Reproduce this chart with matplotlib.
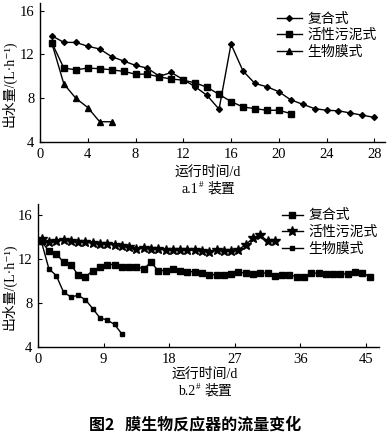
import numpy as np
import matplotlib
matplotlib.use("Agg")
import matplotlib.pyplot as plt

plt.rcParams['font.family'] = ['Liberation Serif', 'Noto Sans CJK SC', 'DejaVu Sans']

W, H = 391, 440

# a. 1# device (days 1..28)
a_days_fh = list(range(1, 29))
a_fh = [13.7, 13.1, 13.1, 12.75, 12.5, 11.8, 11.4, 11.0, 10.75, 10.0,
        10.35, 9.7, 9.05, 8.25, 7.0, 12.95, 10.5, 9.35, 9.05, 8.6,
        7.85, 7.45, 7.05, 6.9, 6.85, 6.65, 6.45, 6.25]
a_days_hx = list(range(1, 22))
a_hx = [13.05, 10.75, 10.6, 10.75, 10.7, 10.6, 10.45, 10.2, 10.2, 9.95,
        9.75, 9.65, 9.4, 9.0, 8.35, 7.7, 7.2, 7.05, 6.9, 6.9, 6.6]
a_days_sw = list(range(1, 7))
a_sw = [13.0, 9.3, 8.0, 7.15, 5.85, 5.85]

# b. 2# device (sampled daily, plotted half a day in)
b_fh = [13.6, 12.7, 12.5, 11.7, 11.5, 10.55, 10.4, 10.9, 11.3, 11.5,
        11.5, 11.3, 11.3, 11.3, 11.1, 11.7, 10.95, 10.95, 11.1, 10.95,
        10.85, 10.85, 10.7, 10.56, 10.56, 10.56, 10.65, 10.81, 10.72, 10.63,
        10.72, 10.72, 10.5, 10.56, 10.56, 10.4, 10.4, 10.72, 10.72, 10.65,
        10.65, 10.63, 10.65, 10.81, 10.77, 10.4]
b_hx = [13.83, 13.52, 13.61, 13.77, 13.61, 13.56, 13.52, 13.47, 13.38, 13.38,
        13.31, 13.16, 13.1, 12.92, 13.0, 12.95, 12.92, 12.85, 12.85, 12.79,
        12.79, 12.8, 12.75, 12.64, 12.85, 12.76, 12.76, 12.85, 13.3, 13.9,
        14.2, 13.6, 13.6]
b_sw = [13.5, 11.1, 10.5, 9.0, 8.55, 8.7, 8.3, 7.5, 6.65, 6.45, 6.05, 5.2]
b_days_fh = np.arange(len(b_fh)) + 0.5
b_days_hx = np.arange(len(b_hx)) + 0.5
b_days_sw = np.arange(len(b_sw)) + 0.5

labels = ['复合式', '活性污泥式', '生物膜式']
ylab = '出水量/(L·h⁻¹)'

fig = plt.figure(figsize=(W / 100, H / 100), dpi=100)


def px_axes(l, r, t, b):
    return fig.add_axes([l / W, 1 - b / H, (r - l) / W, (b - t) / H])


def style(ax):
    for s in ['top', 'right']:
        ax.spines[s].set_visible(False)
    for s in ['left', 'bottom']:
        ax.spines[s].set_linewidth(1.0)
    ax.tick_params(direction='in', length=3, width=0.8, labelsize=10.5, pad=4)


def sub_label(xc, yc, head):
    # "a.1#  装置" with a raised "#"
    y = 1 - yc / H
    fig.text((xc - 8) / W, y, head, ha='right', va='center', fontsize=10)
    fig.text((xc - 7) / W, y + 4 / H, '#', ha='left', va='center', fontsize=6.5)
    fig.text((xc + 1) / W, y, '装置', ha='left', va='center', fontsize=10)


lw = 1.0
# top chart
ax1 = px_axes(40, 385, 3, 142)
ax1.plot(a_days_fh, a_fh, '-', color='k', lw=lw, marker='D', ms=3, label=labels[0])
ax1.plot(a_days_hx, a_hx, '-', color='k', lw=lw, marker='s', ms=5, label=labels[1])
ax1.plot(a_days_sw, a_sw, '-', color='k', lw=lw, marker='^', ms=4.5, label=labels[2])
ax1.set_xlim(0, 28.9)
ax1.set_ylim(4, 16.7)
ax1.set_xticks([0, 4, 8, 12, 16, 20, 24, 28])
ax1.set_yticks([4, 8, 12, 16])
style(ax1)
ax1.set_ylabel(ylab, fontsize=10)
ax1.yaxis.set_label_coords(-0.068, 0.42)
ax1.legend(loc='upper right', bbox_to_anchor=(1.0, 0.99), frameon=False,
           fontsize=10, handlelength=1.8, handletextpad=0.4, labelspacing=0.25,
           borderaxespad=0.2)

# bottom chart
ax2 = px_axes(38, 379, 204, 347)
ax2.plot(b_days_fh, b_fh, '-', color='k', lw=lw, marker='s', ms=4.5, label=labels[0])
ax2.plot(b_days_hx, b_hx, '-', color='k', lw=lw, marker='*', ms=7, label=labels[1])
ax2.plot(b_days_sw, b_sw, '-', color='k', lw=lw, marker='s', ms=2.5, label=labels[2])
ax2.set_xlim(0, 46.8)
ax2.set_ylim(4, 17)
ax2.set_xticks([0, 9, 18, 27, 36, 45])
ax2.set_yticks([4, 8, 12, 16])
style(ax2)
ax2.set_ylabel(ylab, fontsize=10)
ax2.yaxis.set_label_coords(-0.063, 0.42)
ax2.legend(loc='upper right', bbox_to_anchor=(1.02, 1.02), frameon=False,
           fontsize=10, handlelength=1.5, handletextpad=0.4, labelspacing=0.25,
           borderaxespad=0.2)

fig.text(208 / W, 1 - 172 / H, '运行时间/d', ha='center', va='center', fontsize=10)
sub_label(206, 189, 'a.1')
fig.text(205 / W, 1 - 374 / H, '运行时间/d', ha='center', va='center', fontsize=10)
sub_label(203, 391, 'b.2')
fig.text(195 / W, 1 - 424 / H, '图2   膜生物反应器的流量变化', ha='center', va='center',
         fontsize=11.5, fontweight='bold', family=['Noto Sans CJK SC', 'DejaVu Sans'])

fig.savefig('out.png', dpi=100)
